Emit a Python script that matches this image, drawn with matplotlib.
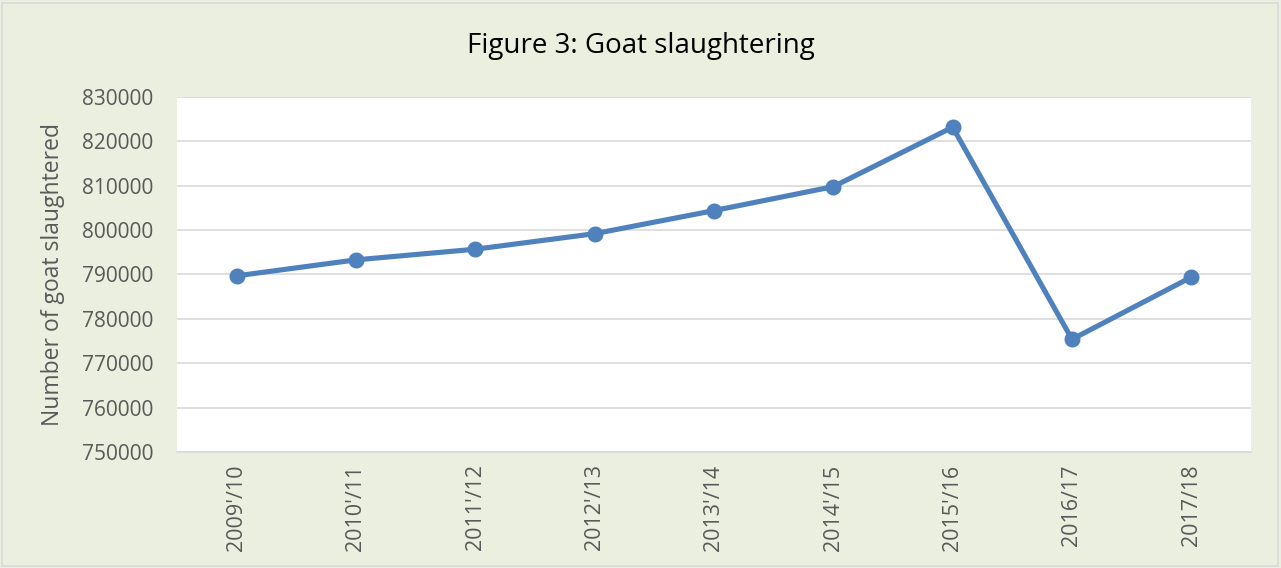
import matplotlib.pyplot as plt
from matplotlib.patches import Rectangle

# Data
seasons = ["2009'/10", "2010'/11", "2011'/12", "2012'/13", "2013'/14",
           "2014'/15", "2015'/16", "2016/17", "2017/18"]
goats = [789700, 793300, 795700, 799200, 804400, 809800, 823200, 775400, 789400]
y_ticks = [750000, 760000, 770000, 780000, 790000, 800000, 810000, 820000, 830000]

bg = "#EBEFDF"
grid = "#D9D9D9"
text_col = "#595959"

plt.rcParams["font.family"] = ["Open Sans", "DejaVu Sans"]

fig = plt.figure(figsize=(12.81, 5.68), dpi=100, facecolor=bg)
ax = fig.add_axes([177 / 1281, 1 - 452 / 568, (1251 - 177) / 1281, (452 - 97) / 568])
ax.set_facecolor("white")

# light frame around the whole chart
fig.patches.append(Rectangle((2 / 1281, 2 / 568), 1276 / 1281, 563 / 568,
                             transform=fig.transFigure, fill=False,
                             edgecolor=grid, linewidth=1.2))

x = range(len(seasons))
ax.plot(x, goats, color="#4F81BD", linewidth=3.7, marker="o", markersize=10.5,
        solid_capstyle="round", zorder=3)

ax.set_xlim(-0.5, len(seasons) - 0.5)
ax.set_ylim(750000, 830000)
ax.set_yticks(y_ticks)
ax.set_yticklabels([str(v) for v in y_ticks])
ax.set_xticks(list(x))
ax.set_xticklabels(seasons, rotation=90)

ax.grid(axis="y", color=grid, linewidth=1.2)
ax.set_axisbelow(True)
for s in ["top", "left", "right"]:
    ax.spines[s].set_visible(False)
ax.spines["bottom"].set_color(grid)
ax.spines["bottom"].set_linewidth(1.2)

ax.tick_params(axis="y", length=0, pad=17, labelsize=15, labelcolor=text_col)
ax.tick_params(axis="x", length=0, pad=9, labelsize=15.5, labelcolor=text_col)

ax.set_ylabel("Number of goat slaughtered", fontsize=16.5, color=text_col, labelpad=12)
fig.text(0.5, 1 - 46 / 568, "Figure 3: Goat slaughtering", ha="center", va="center",
         fontsize=20, color="black")

fig.savefig("out.png", dpi=100, facecolor=bg)
